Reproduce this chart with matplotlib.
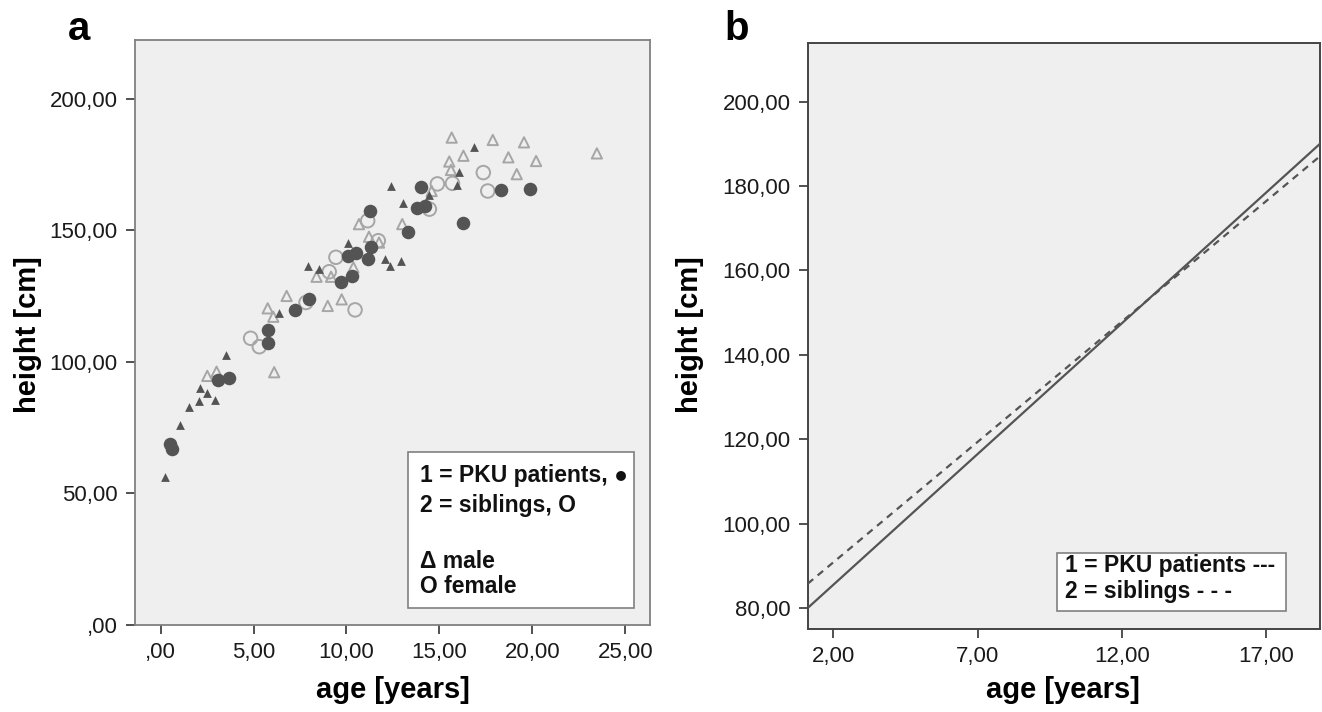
import numpy as np
import matplotlib
matplotlib.use("Agg")
import matplotlib.pyplot as plt
from matplotlib.patches import Rectangle
from matplotlib.ticker import FuncFormatter

plt.rcParams['font.family'] = ['Liberation Sans', 'DejaVu Sans']

# panel a: age [years] / height [cm] per group
pku_male_age = [3.5, 2.12, 2.51, 2.06, 2.9, 1.54, 1.04, 0.23, 12.38, 14.46, 13.06, 10.1,
                12.07, 12.34, 12.92, 7.95, 8.54, 6.38, 16.86, 16.07, 15.96]
pku_male_height = [102.7, 90.2, 88.3, 85.2, 85.6, 83.0, 76.0, 56.2, 166.9, 163.5, 160.6, 145.1,
                   139.3, 136.5, 138.5, 136.5, 135.2, 118.8, 181.9, 172.1, 167.3]

pku_female_age = [0.5, 0.59, 3.1, 3.68, 5.79, 5.79, 7.23, 8.0, 9.7, 10.28, 10.06, 10.51,
                  11.14, 11.3, 11.26, 13.29, 13.78, 14.22, 14.01, 16.25, 18.31, 19.88]
pku_female_height = [69.0, 66.8, 93.2, 93.8, 107.3, 112.2, 119.8, 123.8, 130.5, 132.7, 140.3, 141.6,
                     139.3, 143.6, 157.5, 149.3, 158.4, 159.3, 166.7, 152.7, 165.4, 165.7]

sib_male_age = [2.51, 3.01, 6.11, 6.78, 5.76, 6.06, 8.39, 9.17, 8.99, 9.74, 10.37, 11.21, 11.75,
                10.67, 13.0, 14.58, 15.53, 15.62, 15.66, 16.29, 17.87, 18.71, 19.16, 19.55, 20.2, 23.47]
sib_male_height = [94.7, 96.3, 96.1, 125.1, 120.4, 117.2, 132.4, 132.4, 121.3, 123.8, 136.0, 147.6, 145.4,
                   152.4, 152.4, 165.0, 176.2, 173.0, 185.3, 178.4, 184.4, 177.8, 171.4, 183.5, 176.4, 179.3]

sib_female_age = [4.84, 5.31, 7.82, 9.07, 9.43, 10.46, 11.14, 11.71, 14.46, 14.89, 15.7, 17.36, 17.6]
sib_female_height = [109.0, 105.8, 122.6, 134.3, 139.8, 119.8, 153.7, 146.1, 158.1, 167.7, 167.9, 172.0, 165.0]

# panel b: linear fits (intercept, slope per year)
fit_groups = ['PKU patients', 'siblings']
fit_intercept = [73.1, 79.4]
fit_slope = [6.2, 5.71]

dark = '#545454'
light = '#a6a6a6'
bg = '#efefef'


def comma_fmt(v, pos):
    s = f"{v:.2f}".replace('.', ',')
    if s.startswith('0,'):
        s = s[1:]
    return s


fig = plt.figure(figsize=(13.22, 7.12), dpi=100)
ax1 = fig.add_axes([0.1021, 0.1222, 0.3896, 0.8216])
ax2 = fig.add_axes([0.611, 0.1166, 0.3875, 0.8226])

for ax in (ax1, ax2):
    ax.set_facecolor(bg)
    ax.tick_params(direction='out', length=6.5, width=1.2, colors='#333333',
                   labelsize=16, pad=6, labelcolor='#1a1a1a')
    ax.xaxis.set_major_formatter(FuncFormatter(comma_fmt))
    ax.yaxis.set_major_formatter(FuncFormatter(comma_fmt))

# --- panel a
ax1.scatter(sib_male_age, sib_male_height, marker='^', s=55, facecolors='none',
            edgecolors=light, linewidths=1.4, zorder=3)
ax1.scatter(sib_female_age, sib_female_height, marker='o', s=95, facecolors='none',
            edgecolors=light, linewidths=1.4, zorder=3)
ax1.scatter(pku_male_age, pku_male_height, marker='^', s=40, color=dark, linewidths=0, zorder=4)
ax1.scatter(pku_female_age, pku_female_height, marker='o', s=95, color=dark, linewidths=0, zorder=4)

ax1.set_xlim(-1.38, 26.33)
ax1.set_ylim(0, 222.4)
ax1.set_xticks([0, 5, 10, 15, 20, 25])
ax1.set_yticks([0, 50, 100, 150, 200])
for sp in ax1.spines.values():
    sp.set_color('#808080')
    sp.set_linewidth(1.3)

ax1.add_patch(Rectangle((0.530, 0.029), 0.439, 0.267, transform=ax1.transAxes,
                        facecolor='white', edgecolor='#808080', linewidth=1.2, zorder=5))
leg_a = ['1 = PKU patients, \u25cf', '2 = siblings, O', '\u0394 male', 'O female']
leg_a_y = [0.245, 0.194, 0.097, 0.054]
for txt, yy in zip(leg_a, leg_a_y):
    ax1.text(0.553, yy, txt, transform=ax1.transAxes, fontsize=16.5, fontweight='bold',
             va='baseline', ha='left', color='#111111', zorder=6)

# --- panel b
ax2.set_xlim(1.11, 18.86)
ax2.set_ylim(75.0, 213.85)
xs = np.array(ax2.get_xlim())
styles = ['-', (0, (3.2, 2.6))]
for b0, b1, ls in zip(fit_intercept, fit_slope, styles):
    ax2.plot(xs, b0 + b1 * xs, color=dark, linewidth=1.6, linestyle=ls, zorder=3)
ax2.set_xticks([2, 7, 12, 17])
ax2.set_yticks([80, 100, 120, 140, 160, 180, 200])
for sp in ax2.spines.values():
    sp.set_color('#444444')
    sp.set_linewidth(1.4)

ax2.add_patch(Rectangle((0.486, 0.031), 0.448, 0.099, transform=ax2.transAxes,
                        facecolor='white', edgecolor='#808080', linewidth=1.2, zorder=5))
leg_b = [f'1 = {fit_groups[0]} ---', f'2 = {fit_groups[1]} - - -']
leg_b_y = [0.098, 0.053]
for txt, yy in zip(leg_b, leg_b_y):
    ax2.text(0.502, yy, txt, transform=ax2.transAxes, fontsize=16.5, fontweight='bold',
             va='baseline', ha='left', color='#111111', zorder=6)

# axis labels and panel letters
fig.text(393 / 1322, 1 - 690 / 712, 'age [years]', ha='center', va='center',
         fontsize=21, fontweight='bold')
fig.text(1063 / 1322, 1 - 690 / 712, 'age [years]', ha='center', va='center',
         fontsize=21, fontweight='bold')
fig.text(28 / 1322, 1 - 335 / 712, 'height [cm]', ha='center', va='center',
         rotation=90, fontsize=21, fontweight='bold')
fig.text(690 / 1322, 1 - 335 / 712, 'height [cm]', ha='center', va='center',
         rotation=90, fontsize=21, fontweight='bold')
fig.text(79 / 1322, 1 - 40 / 712, 'a', ha='center', va='baseline', fontsize=29, fontweight='bold')
fig.text(737 / 1322, 1 - 40 / 712, 'b', ha='center', va='baseline', fontsize=29, fontweight='bold')

fig.savefig('out.png', dpi=100)
